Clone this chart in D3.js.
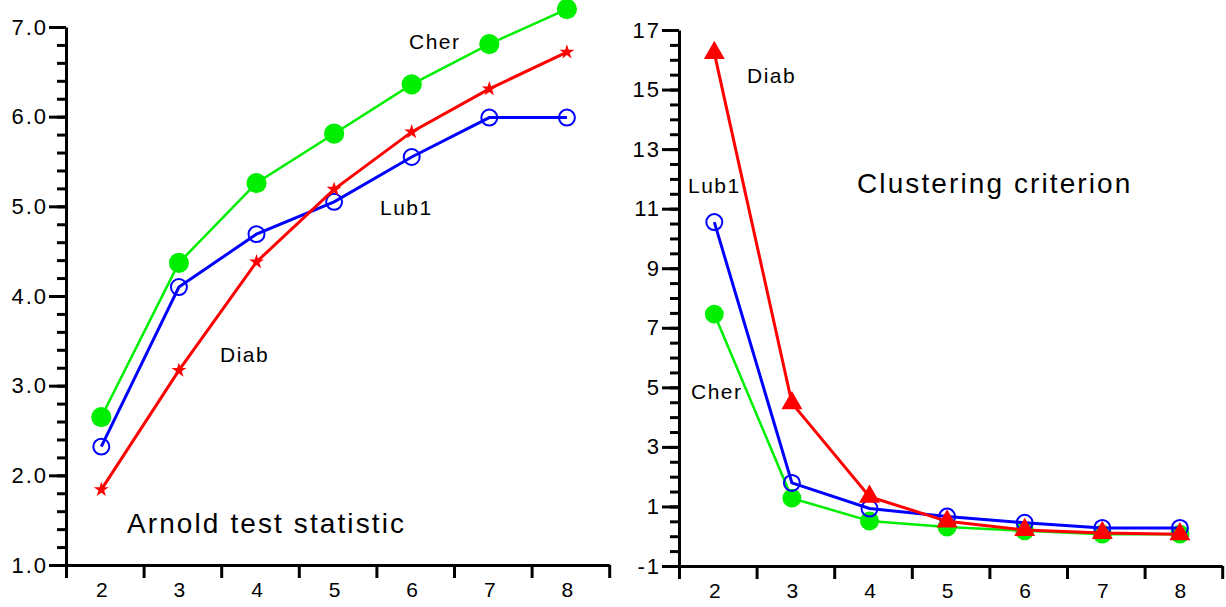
<!DOCTYPE html>
<head>
    <meta charset="utf-8">
    <title>Arnold test statistic / Clustering criterion</title>
    <script src="https://d3js.org/d3.v7.min.js"></script>
    <style>
        body { margin: 0; background: #fff; }
        svg { font-family: "Liberation Sans", Arial, Helvetica, sans-serif; }
        .axis path, .axis line { stroke: #000; stroke-width: 3px; }
        .axis text { font-size: 22px; fill: #000; letter-spacing: 2px; }
        .xlab text { letter-spacing: 0; font-size: 21px; }
        .label { font-size: 21px; letter-spacing: 1.5px; }
        .title { font-size: 28px; letter-spacing: 2.1px; }
    </style>
</head>
<body>
    <div id="container"></div>
    <script>
        //---------------------------DATA---------------------------//
        var groups = [2, 3, 4, 5, 6, 7, 8];

        // left panel: Arnold test statistic
        var arnoldCher = [2.65, 4.37, 5.26, 5.81, 6.36, 6.81, 7.20];
        var arnoldLub1 = [2.32, 4.10, 4.69, 5.05, 5.55, 5.99, 5.99];
        var arnoldDiab = [1.84, 3.17, 4.38, 5.19, 5.83, 6.31, 6.72];
        var arnoldTicks = [1.0, 2.0, 3.0, 4.0, 5.0, 6.0, 7.0];

        // right panel: Clustering criterion
        var clustCher = [7.46, 1.28, 0.51, 0.31, 0.18, 0.07, 0.07];
        var clustLub1 = [10.55, 1.79, 0.93, 0.66, 0.45, 0.28, 0.28];
        var clustDiab = [16.23, 4.47, 1.33, 0.50, 0.21, 0.11, 0.07];
        var clustTicks = [-1, 1, 3, 5, 7, 9, 11, 13, 15, 17];

        var W = 1226, H = 607;
        var svg = d3.select("#container").append("svg")
            .attr("width", W).attr("height", H);

        //--------------------------PANEL---------------------------//
        function panel(opt) {
            var g = svg.append("g");
            var x = d3.scaleLinear().domain([1.545, 8.545]).range([opt.x0, opt.x0 + 7 * 77.6]);
            var y = d3.scaleLinear().domain(opt.ydomain).range([opt.y0, opt.y1]);

            // minor y ticks
            var minor = d3.range(opt.ydomain[0], opt.ydomain[1] + 1e-9, opt.minorStep);
            g.append("g").attr("class", "axis")
                .attr("transform", "translate(" + opt.x0 + ",0)")
                .call(d3.axisLeft(y).tickValues(minor).tickSize(9).tickSizeOuter(0).tickFormat(""))
                .select(".domain").remove();

            // major y ticks
            g.append("g").attr("class", "axis")
                .attr("transform", "translate(" + opt.x0 + ",0)")
                .call(d3.axisLeft(y).tickValues(opt.ticks).tickSize(17).tickSizeOuter(0)
                    .tickPadding(1).tickFormat(opt.fmt));

            // x boundary ticks
            var bounds = d3.range(0, 8).map(function (i) { return 1.545 + i; });
            g.append("g").attr("class", "axis")
                .attr("transform", "translate(0," + opt.y0 + ")")
                .call(d3.axisBottom(x).tickValues(bounds).tickSize(13).tickSizeOuter(0).tickFormat(""));

            // x labels
            g.append("g").attr("class", "axis xlab")
                .attr("transform", "translate(0," + opt.y0 + ")")
                .call(d3.axisBottom(x).tickValues(groups).tickSize(0).tickPadding(17).tickFormat(function (d) { return String(d); }))
                .call(function (s) { s.select(".domain").remove(); });

            // lines + markers
            opt.series.forEach(function (s) {
                var pts = groups.map(function (gv, i) { return [x(gv), y(s.values[i])]; });
                g.append("path")
                    .attr("d", d3.line()(pts))
                    .attr("fill", "none")
                    .attr("stroke", s.color)
                    .attr("stroke-width", s.width);
                g.selectAll(null).data(pts).enter().append("path")
                    .attr("transform", function (d) { return "translate(" + d[0] + "," + d[1] + ")"; })
                    .attr("d", d3.symbol().type(s.symbol).size(s.size))
                    .attr("fill", s.fill)
                    .attr("stroke", s.stroke)
                    .attr("stroke-width", s.strokeWidth);
            });

            // series labels
            opt.labels.forEach(function (l) {
                g.append("text")
                    .attr("class", "label")
                    .attr("x", l.x).attr("y", l.y)
                    .text(l.text);
            });

            g.append("text")
                .attr("class", "title")
                .attr("x", opt.title.x).attr("y", opt.title.y)
                .text(opt.title.text);
        }

        panel({
            x0: 66, y0: 565, y1: 27,
            ydomain: [1, 7], minorStep: 0.2, ticks: arnoldTicks,
            fmt: function (d) { return d.toFixed(1); },
            series: [
                { values: arnoldCher, color: "#00ee00", width: 2.5, symbol: d3.symbolCircle, size: 320, fill: "#00ee00", stroke: "none", strokeWidth: 0 },
                { values: arnoldLub1, color: "#0000ff", width: 3, symbol: d3.symbolCircle, size: 200, fill: "none", stroke: "#0000ff", strokeWidth: 2 },
                { values: arnoldDiab, color: "#ff0000", width: 3, symbol: d3.symbolStar, size: 70, fill: "#ff0000", stroke: "none", strokeWidth: 0 }
            ],
            labels: [
                { text: "Cher", x: 409, y: 49 },
                { text: "Lub1", x: 380, y: 215 },
                { text: "Diab", x: 220, y: 362 }
            ],
            title: { text: "Arnold test statistic", x: 127, y: 533 }
        });

        panel({
            x0: 679, y0: 566, y1: 30,
            ydomain: [-1, 17], minorStep: 0.5, ticks: clustTicks,
            fmt: function (d) { return String(d); },
            series: [
                { values: clustCher, color: "#00ee00", width: 2.5, symbol: d3.symbolCircle, size: 280, fill: "#00ee00", stroke: "none", strokeWidth: 0 },
                { values: clustLub1, color: "#0000ff", width: 3, symbol: d3.symbolCircle, size: 200, fill: "none", stroke: "#0000ff", strokeWidth: 2 },
                { values: clustDiab, color: "#ff0000", width: 3, symbol: d3.symbolTriangle, size: 190, fill: "#ff0000", stroke: "none", strokeWidth: 0 }
            ],
            labels: [
                { text: "Diab", x: 747, y: 83 },
                { text: "Lub1", x: 688, y: 193 },
                { text: "Cher", x: 691, y: 399 }
            ],
            title: { text: "Clustering criterion", x: 857, y: 193 }
        });
    </script>
</body>
